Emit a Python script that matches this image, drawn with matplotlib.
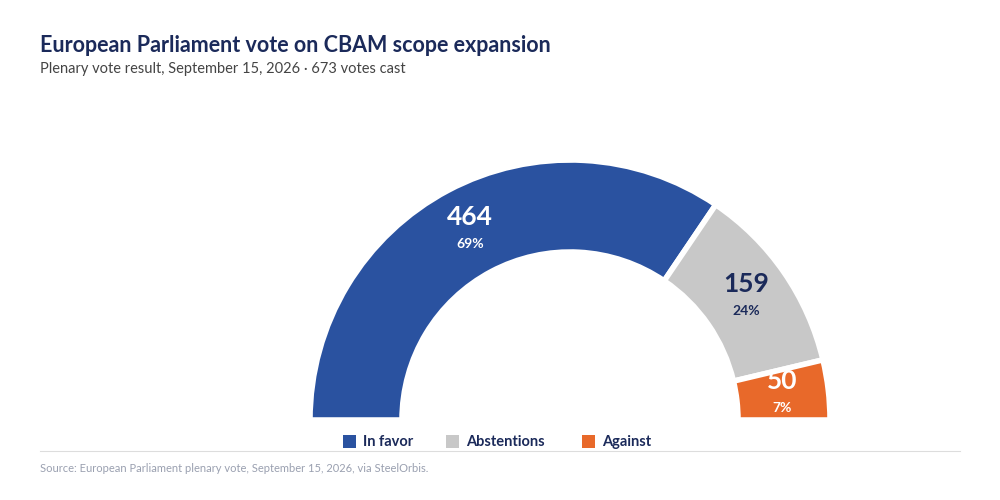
import matplotlib
matplotlib.use("Agg")
import matplotlib.pyplot as plt
from matplotlib.patches import Wedge, Rectangle
import numpy as np

categories = ["In favor", "Abstentions", "Against"]
votes = [464, 159, 50]
colors = ["#2A52A0", "#C8C8C8", "#E8692A"]
label_colors = ["white", "#1B2A5A", "white"]

plt.rcParams['font.family'] = ['Lato', 'DejaVu Sans']
fig = plt.figure(figsize=(10, 5), dpi=100)
ax = fig.add_axes([0, 0, 1, 1])
ax.set_xlim(0, 1000); ax.set_ylim(500, 0); ax.axis('off')

cx, cy, R, r = 570, 420, 260, 168
total = sum(votes)
start = 180.0
for v, c, lc in zip(votes, colors, label_colors):
    span = v / total * 180
    t1, t2 = start - span, start
    # y inverted: use negative angles
    w = Wedge((cx, cy), R, -t2, -t1, width=R - r, facecolor=c, edgecolor='white', linewidth=4)
    ax.add_patch(w)
    mid = np.deg2rad((t1 + t2) / 2)
    rm = (R + r) / 2
    x = cx + rm * np.cos(mid); y = cy - rm * np.sin(mid)
    ax.text(x, y - 14, str(v), color=lc, fontsize=19, fontweight='bold', ha='center', va='center')
    ax.text(x, y + 13, f"{round(v / total * 100)}%", color=lc, fontsize=10, fontweight='bold', ha='center', va='center')
    start = t1

ax.text(40, 45, "European Parliament vote on CBAM scope expansion", fontsize=15.5, fontweight='bold', color='#1B2A5A', va='center')
ax.text(40, 69, "Plenary vote result, September 15, 2026 · 673 votes cast", fontsize=10.5, color='#444444', va='center')

lx = [343, 446, 582]
for x0, cat, c in zip(lx, categories, colors):
    ax.add_patch(Rectangle((x0, 435), 13, 13, facecolor=c, edgecolor='none'))
    ax.text(x0 + 20, 442, cat, fontsize=10.5, fontweight='bold', color='#1B2A5A', va='center')

ax.plot([40, 960], [451, 451], color='#DDDDDD', linewidth=0.8)
ax.text(40, 469, "Source: European Parliament plenary vote, September 15, 2026, via SteelOrbis.", fontsize=8, color='#9AA0B0', va='center')

fig.savefig("out.png", dpi=100, facecolor='white')
